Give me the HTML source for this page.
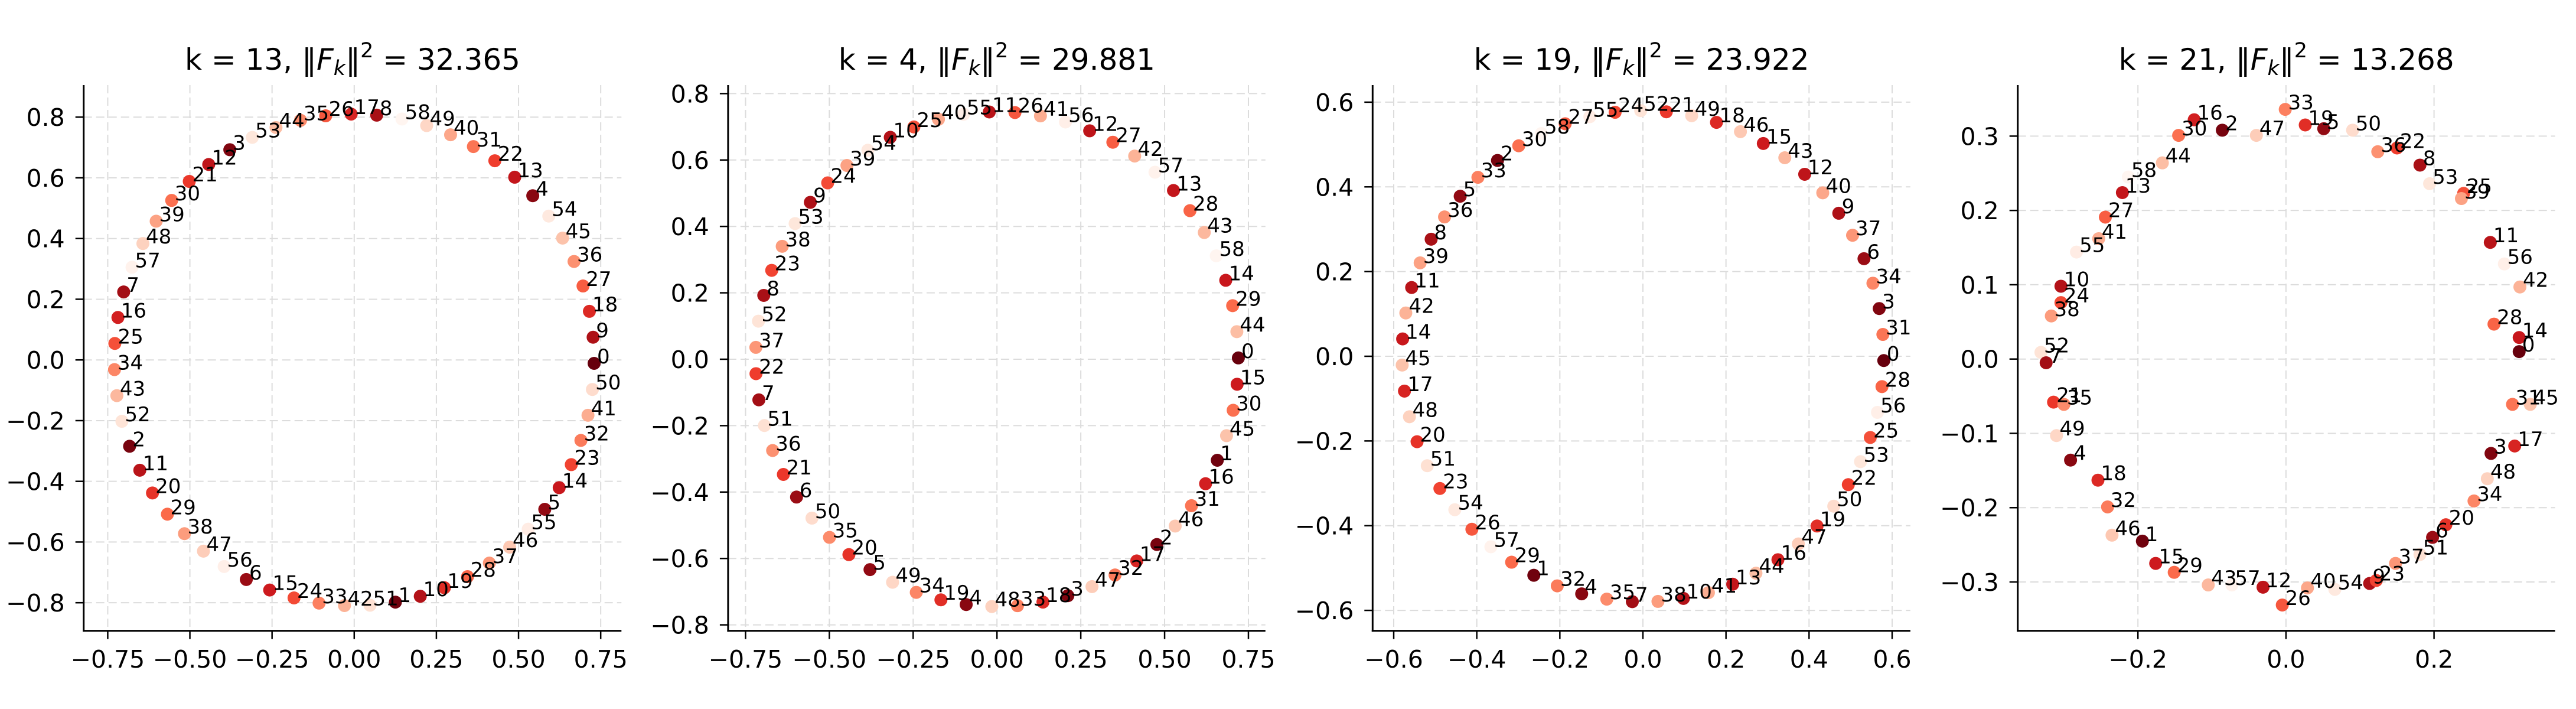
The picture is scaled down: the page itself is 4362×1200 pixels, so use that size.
<!DOCTYPE html>
<html><head><meta charset="utf-8"><style>
html,body{margin:0;padding:0;background:#fff;}
svg{display:block;font-family:"DejaVu Sans","Liberation Sans",sans-serif;}
</style></head><body>
<svg id="fig" width="4362" height="1200" viewBox="0 0 4362 1200" xmlns="http://www.w3.org/2000/svg"></svg>
<script>
// ---- data ----
const p1Order = [0,9,18,27,36,45,54,4,13,22,31,40,49,58,8,17,26,35,44,53,3,12,21,30,39,48,57,7,16,25,34,43,52,2,11,20,29,38,47,56,6,15,24,33,42,51,1,10,19,28,37,46,55,5,14,23,32,41,50];
const p2Order = [0,44,29,14,58,43,28,13,57,42,27,12,56,41,26,11,55,40,25,10,54,39,24,9,53,38,23,8,52,37,22,7,51,36,21,6,50,35,20,5,49,34,19,4,48,33,18,3,47,32,17,2,46,31,16,1,45,30,15];
const p3Order = [0,31,3,34,6,37,9,40,12,43,15,46,18,49,21,52,24,55,27,58,30,2,33,5,36,8,39,11,42,14,45,17,48,20,51,23,54,26,57,29,1,32,4,35,7,38,10,41,13,44,16,47,19,50,22,53,25,56,28];
const p4Labels = [0,14,28,42,56,11,25,39,53,8,22,36,50,5,19,33,47,2,16,30,44,58,13,27,41,55,10,24,38,52,7,21,35,49,4,18,32,46,1,15,29,43,57,12,26,40,54,9,23,37,51,6,20,34,48,3,17,31,45];
const p4X = [0.315,0.315,0.281,0.316,0.295,0.276,0.240,0.237,0.194,0.181,0.150,0.124,0.090,0.051,0.026,-0.001,-0.040,-0.086,-0.124,-0.145,-0.167,-0.213,-0.221,-0.244,-0.253,-0.283,-0.304,-0.304,-0.317,-0.331,-0.324,-0.314,-0.300,-0.310,-0.291,-0.254,-0.241,-0.235,-0.194,-0.176,-0.151,-0.105,-0.073,-0.031,-0.005,0.029,0.066,0.113,0.122,0.148,0.181,0.198,0.216,0.254,0.272,0.277,0.309,0.306,0.330];
const p4Y = [0.010,0.029,0.047,0.097,0.128,0.157,0.223,0.216,0.236,0.261,0.284,0.279,0.308,0.310,0.315,0.336,0.301,0.308,0.322,0.301,0.264,0.245,0.224,0.191,0.162,0.144,0.098,0.076,0.058,0.009,-0.005,-0.058,-0.061,-0.103,-0.136,-0.163,-0.199,-0.237,-0.245,-0.275,-0.287,-0.304,-0.304,-0.307,-0.331,-0.308,-0.310,-0.302,-0.298,-0.275,-0.263,-0.240,-0.223,-0.191,-0.161,-0.127,-0.117,-0.061,-0.061];
const titlesK = [13,4,19,21];
const titlesNorm = ["32.365","29.881","23.922","13.268"];
const ticks1X = [-0.75,-0.5,-0.25,0,0.25,0.5,0.75], ticks1XL = ["−0.75","−0.50","−0.25","0.00","0.25","0.50","0.75"];
const ticks1Y = [-0.8,-0.6,-0.4,-0.2,0,0.2,0.4,0.6,0.8], ticks1YL = ["−0.8","−0.6","−0.4","−0.2","0.0","0.2","0.4","0.6","0.8"];
const ticks3 = [-0.6,-0.4,-0.2,0,0.2,0.4,0.6], ticks3L = ["−0.6","−0.4","−0.2","0.0","0.2","0.4","0.6"];
const ticks4X = [-0.2,0,0.2], ticks4XL = ["−0.2","0.0","0.2"];
const ticks4Y = [-0.3,-0.2,-0.1,0,0.1,0.2,0.3], ticks4YL = ["−0.3","−0.2","−0.1","0.0","0.1","0.2","0.3"];
const ringRadii = [[0.73,0.81,-0.8],[0.72,0.745,0.3],[0.58,0.58,-1]];

const NS="http://www.w3.org/2000/svg";
const svg=document.getElementById('fig');
function mk(tag,attrs,parent){const e=document.createElementNS(NS,tag);for(const k in attrs)e.setAttribute(k,attrs[k]);(parent||svg).appendChild(e);return e;}
const reds=["#fff5f0","#fee0d2","#fcbba1","#fc9272","#fb6a4a","#ef3b2c","#cb181d","#a50f15","#67000d"];
function hx(c){return [1,3,5].map(i=>parseInt(c.substr(i,2),16));}
function redsColor(t){t=Math.max(0,Math.min(1,t));const s=t*8,i=Math.min(7,Math.floor(s)),f=s-i;const a=hx(reds[i]),b=hx(reds[i+1]);return `rgb(${a.map((v,j)=>Math.round(v+(b[j]-v)*f)).join(',')})`;}

const panels=[
 {L:141.7,R:1052.3,x0:599.8,xs:556.5,y0:609.2,ys:513.7,tx:ticks1X,txl:ticks1XL,ty:ticks1Y,tyl:ticks1YL},
 {L:1232.9,R:2142.8,x0:1688.2,xs:567.7,y0:608,ys:562,tx:ticks1X,txl:ticks1XL,ty:ticks1Y,tyl:ticks1YL},
 {L:2324.3,R:3234.9,x0:2782,xs:703.3,y0:603,ys:716.8,tx:ticks3,txl:ticks3L,ty:ticks3,tyl:ticks3L},
 {L:3416.7,R:4326.6,x0:3870.9,xs:1253.5,y0:607.7,ys:1257.7,tx:ticks4X,txl:ticks4XL,ty:ticks4Y,tyl:ticks4YL}
];
const TOP=144,BOT=1067.6;

function pointsFor(pi){
  if(pi<3){const ord=[p1Order,p2Order,p3Order][pi];const [rx,ry,off]=ringRadii[pi];
    return ord.map((lab,j)=>{const a=(360*j/ord.length+off)*Math.PI/180;return {lab,x:rx*Math.cos(a),y:ry*Math.sin(a)};});}
  return p4Labels.map((lab,i)=>({lab,x:p4X[i],y:p4Y[i]}));
}

panels.forEach((p,pi)=>{
  const g=mk('g',{});
  
  
  const sx=v=>p.x0+v*p.xs, sy=v=>p.y0-v*p.ys;
  p.tx.forEach(v=>{const l=mk('line',{x1:sx(v),x2:sx(v),y1:TOP,y2:BOT,stroke:'#dcdcdc','stroke-width':2,'stroke-dasharray':'14,7'},g);
    });
  p.ty.forEach(v=>{const l=mk('line',{x1:p.L,x2:p.R,y1:sy(v),y2:sy(v),stroke:'#dcdcdc','stroke-width':2,'stroke-dasharray':'14,7'},g);
    });
  p.tx.forEach((v,i)=>{mk('line',{x1:sx(v),x2:sx(v),y1:BOT,y2:BOT+14,stroke:'#000','stroke-width':2.5},g);
    const t=mk('text',{x:sx(v),y:1130,'text-anchor':'middle','font-size':41,fill:'#000'},g);t.textContent=p.txl[i];
    });
  p.ty.forEach((v,i)=>{mk('line',{x1:p.L-14,x2:p.L,y1:sy(v),y2:sy(v),stroke:'#000','stroke-width':2.5},g);
    const t=mk('text',{x:p.L-32,y:sy(v)+15,'text-anchor':'end','font-size':41,fill:'#000'},g);t.textContent=p.tyl[i];
    });
  const s1=mk('line',{x1:p.L,x2:p.L,y1:TOP,y2:BOT+1.5,stroke:'#000','stroke-width':3},g);
  
  const s2=mk('line',{x1:p.L-1.5,x2:p.R,y1:BOT,y2:BOT,stroke:'#000','stroke-width':3},g);
  
  const pts=pointsFor(pi);
  pts.forEach(d=>{const c=mk('circle',{cx:sx(d.x),cy:sy(d.y),r:11,fill:redsColor(1-d.lab/58)},g);
    });
  pts.forEach(d=>{const t=mk('text',{x:sx(d.x)+5,y:sy(d.y),'font-size':34,fill:'#000'},g);t.textContent=d.lab;
    });
  const cx=(p.L+p.R)/2;
  const tt=mk('text',{x:cx,y:118,'text-anchor':'middle','font-size':50,fill:'#000'},g);
  
  const parts=[['k = '+titlesK[pi]+', ‖',{}],['F',{'font-style':'italic'}],['k',{'font-style':'italic','font-size':35,dy:9}],['‖',{dy:-9}],['2',{'font-size':35,dy:-21}],[' = '+titlesNorm[pi],{dy:21}]];
  parts.forEach(([s,a])=>{const ts=mk('tspan',a,tt);ts.textContent=s;});
});
</script>
</body></html>
